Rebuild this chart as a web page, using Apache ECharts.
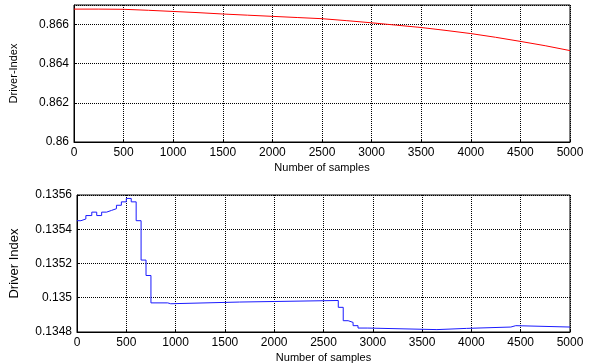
<!DOCTYPE html>
<html>
<head>
<meta charset="utf-8">
<script src="https://cdn.jsdelivr.net/npm/echarts@6/dist/echarts.min.js"></script>
<style>
  html, body { margin: 0; padding: 0; background: #fff; }
  #chart { width: 593px; height: 364px; }
</style>
</head>
<body>
<div id="chart"></div>
<script>
// top panel: slowly falling index
const topX = [0, 250, 500, 750, 1000, 1250, 1500, 1750, 2000, 2250, 2500, 2750, 3000, 3250, 3500, 3750, 4000, 4250, 4500, 4750, 5000];
const topY = [0.86679, 0.86679, 0.86678, 0.86673, 0.86667, 0.86661, 0.86654, 0.86648, 0.86642, 0.86636, 0.8663, 0.8662, 0.86609, 0.86597, 0.86585, 0.8657, 0.86554, 0.86535, 0.86514, 0.86492, 0.86467];

// bottom panel: staircase index
const botX = [0, 40, 90, 150, 200, 250, 300, 350, 400, 450, 500, 550, 600, 650, 700, 750, 920, 950, 1650, 2650, 2700, 2750, 2800, 2850, 2950, 3650, 3950, 4400, 4450, 5000];
const botY = [0.13545, 0.13546, 0.13548, 0.1355, 0.13548, 0.1355, 0.13551, 0.13552, 0.13554, 0.13556, 0.13558, 0.13556, 0.13545, 0.13522, 0.13513, 0.13497, 0.134965, 0.134975, 0.134984, 0.134944, 0.134866, 0.134856, 0.134837, 0.134823, 0.134814, 0.134821, 0.134829, 0.134837, 0.134829, 0.134829];

const xTicks = { min: 0, max: 5000, interval: 500 };
const font = "Liberation Sans, Arial, sans-serif";

const chart = echarts.init(document.getElementById("chart"));

const dotted = { show: true, lineStyle: { color: "#000", type: [1, 1], width: 1 } };

function xAxis(idx) {
  return {
    type: "value",
    gridIndex: idx,
    min: xTicks.min,
    max: xTicks.max,
    interval: xTicks.interval,
    name: "Number of samples",
    nameLocation: "middle",
    nameGap: 20,
    nameTextStyle: { fontFamily: font, fontSize: 11, color: "#000" },
    axisLine: { lineStyle: { color: "#000" } },
    axisTick: { inside: true, length: 3, lineStyle: { color: "#000" } },
    axisLabel: { fontFamily: font, fontSize: 12, color: "#000", margin: 5, formatter: (v) => String(v) },
    splitLine: dotted,
  };
}

function yAxis(idx, opt) {
  return Object.assign({
    type: "value",
    gridIndex: idx,
    nameLocation: "middle",
    axisLine: { show: true, lineStyle: { color: "#000" } },
    axisTick: { show: true, inside: true, length: 3, lineStyle: { color: "#000" } },
    splitLine: dotted,
  }, opt);
}

chart.setOption({
  animation: false,
  grid: [
    { left: 73, right: 23, top: 5, bottom: 222, show: true, borderColor: "#000", borderWidth: 1 },
    { left: 73, right: 23, top: 195, bottom: 31, show: true, borderColor: "#000", borderWidth: 1 },
  ],
  xAxis: [xAxis(0), xAxis(1)],
  yAxis: [
    yAxis(0, {
      min: 0.86, max: 0.867, interval: 0.002,
      name: "Driver-Index", nameGap: 55,
      nameTextStyle: { fontFamily: font, fontSize: 11, color: "#000" },
      axisLabel: {
        fontFamily: font, fontSize: 12, color: "#000", margin: 5, showMaxLabel: false,
        formatter: (v) => String(parseFloat(v.toFixed(4))),
      },
    }),
    yAxis(1, {
      min: 0.1348, max: 0.1356, interval: 0.0002,
      name: "Driver Index", nameGap: 56,
      nameTextStyle: { fontFamily: font, fontSize: 13, color: "#000" },
      axisLabel: {
        fontFamily: font, fontSize: 12, color: "#000", margin: 5,
        formatter: (v) => String(parseFloat(v.toFixed(5))),
      },
    }),
  ],
  series: [
    {
      type: "line", xAxisIndex: 0, yAxisIndex: 0, showSymbol: false,
      lineStyle: { color: "#ff0000", width: 1 },
      data: topX.map((x, i) => [x, topY[i]]),
    },
    {
      type: "line", xAxisIndex: 1, yAxisIndex: 1, showSymbol: false, step: "end",
      lineStyle: { color: "#1a1aff", width: 1 },
      data: botX.map((x, i) => [x, botY[i]]),
    },
  ],
});
</script>
</body>
</html>
